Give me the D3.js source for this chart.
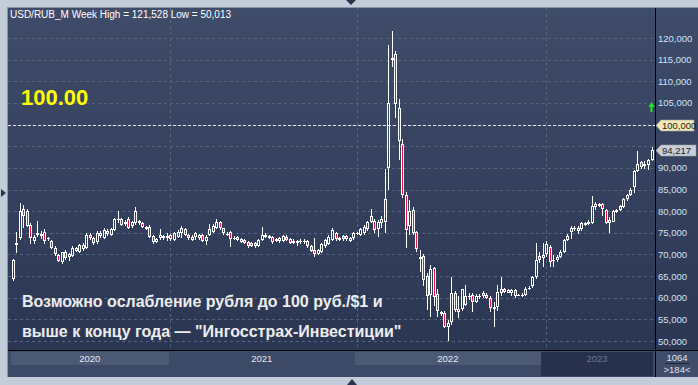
<!DOCTYPE html>
<html>
<head>
<meta charset="utf-8">
<script src="https://cdn.jsdelivr.net/npm/d3@7"></script>
<style>
  body { margin: 0; background: #c3ccd9; }
  svg { display: block; }
  text { font-family: "Liberation Sans", Arial, sans-serif; }
</style>
</head>
<body>
<svg id="chart" width="698" height="385"></svg>
<script>
// weekly candles [open, high, low, close]
const ohlc2020 = [
  [64.3, 69.0, 63.8, 68.6], [72.1, 75.2, 70.3, 72.7], [73.7, 81.9, 73.3, 80.1], [80.6, 81.4, 76.0, 78.9],
  [80.0, 80.4, 76.3, 76.6], [76.8, 77.3, 72.5, 73.7], [73.2, 74.4, 72.5, 73.95], [74.5, 77.7, 74.0, 75.0],
  [74.2, 75.3, 73.6, 74.8], [75.2, 75.8, 72.5, 73.2], [73.6, 74.1, 73.0, 73.9], [73.1, 73.3, 71.3, 71.6],
  [71.6, 72.0, 69.6, 70.1], [69.9, 70.1, 68.3, 68.5], [68.2, 70.6, 67.9, 70.5], [70.6, 71.0, 68.8, 69.2],
  [69.5, 70.4, 68.5, 70.0], [69.7, 71.9, 69.4, 71.5], [70.9, 71.8, 70.6, 71.4], [70.6, 72.4, 70.3, 72.1],
  [71.2, 72.6, 70.9, 72.2], [71.4, 74.9, 71.2, 74.5], [74.5, 75.0, 73.3, 73.7], [73.7, 74.0, 72.2, 72.6],
  [72.8, 75.3, 72.5, 74.9], [74.2, 75.4, 73.8, 74.9], [73.9, 76.0, 73.5, 75.6], [75.5, 75.9, 74.3, 74.7],
  [74.5, 76.2, 74.2, 75.8], [75.6, 78.5, 75.3, 78.3], [77.9, 80.1, 77.2, 78.3], [78.1, 78.5, 76.5, 76.8],
  [77.0, 78.0, 76.5, 77.6], [78.3, 78.6, 75.8, 76.0], [76.6, 77.8, 76.2, 77.4], [77.2, 81.0, 76.8, 80.0],
  [77.7, 78.0, 76.9, 77.2], [77.2, 77.5, 76.0, 76.3], [76.3, 76.6, 75.6, 75.9], [76.4, 76.7, 73.8, 74.1],
  [74.2, 74.5, 72.4, 72.8], [72.9, 73.8, 72.6, 73.5], [73.7, 75.8, 73.4, 74.5], [73.7, 74.6, 73.3, 74.2],
  [73.7, 75.0, 73.2, 74.2]
];
const ohlc2021 = [
  [74.5, 74.8, 73.2, 73.5], [73.3, 75.2, 73.0, 74.9], [74.1, 75.6, 73.8, 75.2], [74.9, 76.6, 73.7, 76.0],
  [75.8, 76.1, 74.2, 74.5], [74.5, 74.8, 73.4, 73.7], [73.3, 74.4, 73.0, 74.1], [74.0, 75.2, 73.3, 75.0],
  [73.7, 74.8, 73.4, 74.5], [74.5, 74.8, 72.8, 73.1], [73.0, 74.4, 72.1, 74.1], [74.5, 77.0, 74.2, 75.8],
  [75.2, 77.0, 74.9, 76.6], [76.2, 78.2, 75.9, 77.6], [77.6, 77.8, 75.7, 76.0], [76.0, 76.2, 74.6, 74.9],
  [74.7, 75.1, 74.2, 74.8], [75.2, 75.4, 71.8, 73.6], [73.6, 74.2, 73.3, 73.9], [74.0, 74.3, 73.0, 73.3],
  [73.6, 73.9, 72.6, 72.9], [73.3, 73.6, 72.4, 72.7], [72.9, 73.1, 71.4, 72.0], [72.0, 72.9, 71.7, 72.6],
  [72.6, 72.9, 71.6, 72.0], [72.0, 73.6, 71.7, 73.3], [73.3, 76.3, 73.0, 74.6], [74.0, 74.9, 73.7, 74.6],
  [73.9, 74.5, 73.6, 74.2], [74.0, 74.3, 72.5, 72.8], [73.1, 73.9, 72.8, 73.6], [73.0, 74.0, 72.6, 73.7],
  [73.2, 74.5, 72.9, 74.2], [74.1, 74.4, 73.0, 73.3], [73.6, 73.9, 72.3, 72.6], [72.7, 73.5, 72.5, 73.2],
  [72.7, 73.4, 71.9, 73.2], [73.2, 73.5, 72.5, 72.8], [72.8, 73.5, 72.5, 73.2], [73.1, 73.4, 71.6, 71.9],
  [71.9, 72.2, 70.6, 70.9], [71.0, 73.8, 69.3, 70.2], [70.2, 71.3, 69.9, 71.0], [70.6, 72.7, 70.3, 72.4],
  [71.9, 73.6, 71.6, 73.3], [72.4, 74.4, 72.1, 74.1], [73.3, 76.0, 73.0, 75.6], [74.9, 75.2, 73.2, 73.5],
  [73.3, 74.0, 73.0, 73.7], [74.2, 74.5, 73.2, 73.5], [74.2, 74.4, 73.2, 73.5], [73.1, 74.0, 72.9, 73.7],
  [73.7, 75.2, 73.4, 74.9]
];
const ohlc2022 = [
  [74.9, 75.2, 74.6, 75.0], [74.5, 76.2, 74.2, 75.8], [74.9, 76.8, 74.6, 76.4], [75.8, 77.8, 75.5, 77.4],
  [78.9, 80.4, 77.3, 77.6], [77.8, 78.2, 75.0, 75.6], [75.8, 78.0, 74.1, 77.4], [77.2, 78.8, 76.0, 78.3],
  [77.5, 89.7, 75.0, 82.9], [89.9, 118.3, 85.0, 104.9], [115.0, 121.528, 113.2, 115.4], [116.3, 117.1, 101.5, 104.7],
  [103.9, 105.8, 91.9, 96.1], [95.5, 96.6, 83.0, 83.7], [83.7, 84.5, 71.4, 75.6], [76.5, 82.5, 74.5, 80.0],
  [80.2, 81.0, 74.5, 74.9], [75.2, 75.5, 70.6, 71.2], [69.3, 71.0, 66.0, 69.0], [69.6, 70.2, 62.6, 64.1],
  [65.0, 65.6, 57.2, 60.4], [60.6, 67.5, 55.6, 66.6], [66.8, 67.0, 58.0, 60.1], [60.9, 62.1, 55.6, 57.0],
  [56.2, 57.0, 55.8, 56.8], [56.4, 57.0, 53.0, 53.3], [53.3, 54.8, 50.013, 54.1], [54.5, 64.8, 53.8, 61.2],
  [61.0, 61.5, 56.8, 57.2], [57.3, 60.5, 55.3, 56.8], [57.3, 62.0, 57.0, 61.9], [58.3, 62.9, 58.0, 60.4],
  [60.3, 61.0, 59.4, 60.5], [60.6, 61.0, 56.8, 59.1], [59.1, 60.8, 58.8, 60.4], [60.2, 60.8, 59.8, 60.5],
  [60.5, 61.6, 59.9, 61.2], [60.6, 61.0, 59.6, 59.9], [59.9, 60.5, 56.8, 57.6], [57.8, 59.1, 53.2, 57.4],
  [57.9, 62.9, 57.0, 61.4], [61.0, 64.8, 60.5, 62.1], [62.0, 62.3, 61.0, 61.4], [61.2, 62.0, 61.0, 61.8],
  [61.2, 61.9, 60.5, 61.7], [61.7, 62.0, 60.0, 60.3], [60.5, 60.9, 60.3, 60.7], [60.6, 61.0, 60.2, 60.7],
  [60.6, 62.4, 60.3, 62.1], [62.1, 62.7, 61.8, 62.2], [62.6, 65.0, 62.3, 64.7], [64.7, 72.7, 64.4, 68.8],
  [69.7, 70.6, 68.0, 68.7]
];
const ohlc2023 = [
  [69.1, 72.7, 67.1, 69.9], [70.1, 73.0, 69.5, 72.4], [71.8, 72.2, 67.1, 68.3], [68.5, 69.8, 67.1, 68.8],
  [68.6, 69.9, 68.3, 69.5], [69.5, 71.0, 69.2, 70.6], [70.6, 73.6, 70.3, 73.3], [73.3, 74.7, 73.0, 74.2],
  [75.2, 76.5, 73.5, 76.2], [76.2, 76.5, 75.5, 75.8], [75.5, 76.6, 74.8, 76.2], [75.8, 77.5, 75.5, 77.2],
  [76.8, 77.6, 76.5, 77.3], [77.0, 77.9, 76.7, 77.6], [77.3, 83.5, 77.0, 81.2], [81.0, 82.2, 80.2, 81.6],
  [81.3, 81.9, 81.0, 81.7], [81.6, 81.9, 78.9, 80.6], [80.2, 80.5, 77.0, 77.3], [77.2, 78.6, 75.0, 77.9],
  [77.6, 80.3, 77.5, 80.1], [79.8, 80.5, 79.6, 80.2], [80.2, 81.5, 80.0, 81.2], [81.0, 83.0, 80.8, 82.7],
  [82.7, 84.0, 82.4, 83.7], [83.7, 85.3, 83.4, 85.0], [85.6, 89.5, 84.1, 89.3], [89.3, 93.9, 89.0, 91.0],
  [91.4, 91.6, 89.8, 90.2], [90.4, 91.6, 89.8, 91.0], [90.6, 92.0, 89.6, 91.8], [91.8, 94.8, 91.5, 94.217]
];
const years = ['2020', '2021', '2022', '2023'];
const yTicks = [50, 55, 60, 65, 70, 75, 80, 85, 90, 95, 100, 105, 110, 115, 120];
const gridWeeks = [45, 98, 152];
const levelValue = 100;
const lastValue = 94.217;
const titleText = 'USD/RUB_M Week High = 121,528 Low = 50,013';
const captionLines = ['Возможно ослабление рубля до 100 руб./$1 и',
  'выше к концу года — "Ингосстрах-Инвестиции"'];
const barCount = '1064';
const visibleCount = '>184<';

const candles = [ohlc2020, ohlc2021, ohlc2022, ohlc2023].flatMap((arr, yi) =>
  arr.map(d => ({ o: d[0], h: d[1], l: d[2], c: d[3], year: yi })));

const svg = d3.select('#chart');
const padL = 8, padT = 8, plotRight = 655, plotBottom = 350, axisBottom = 377;

const x = d3.scaleLinear().domain([0, candles.length - 1]).range([12.5, 651.5]);
const y = d3.scaleLinear().domain([50, 120]).range([341, 38]);
const fmt = v => v.toFixed(3).replace('.', ',');

// background
const grad = svg.append('defs').append('linearGradient')
  .attr('id', 'bg').attr('x1', 0).attr('y1', 0).attr('x2', 0).attr('y2', 1);
grad.append('stop').attr('offset', '0%').attr('stop-color', '#3f4c69');
grad.append('stop').attr('offset', '100%').attr('stop-color', '#2b3653');

svg.append('rect').attr('width', 698).attr('height', 385).attr('fill', '#c3ccd9');
svg.append('rect').attr('x', padL - 1).attr('y', padT - 1)
  .attr('width', 698 - padL + 1).attr('height', axisBottom - padT + 1)
  .attr('fill', '#8a95a6');
svg.append('rect').attr('x', padL).attr('y', padT)
  .attr('width', 698 - padL).attr('height', plotBottom - padT)
  .attr('fill', 'url(#bg)');

// grid
const grid = svg.append('g')
  .attr('stroke', '#56637f').attr('stroke-dasharray', '3,3').attr('stroke-width', 1);
grid.selectAll('.hg').data(yTicks).enter().append('line')
  .attr('x1', padL).attr('x2', plotRight)
  .attr('y1', d => Math.round(y(d)) + 0.5).attr('y2', d => Math.round(y(d)) + 0.5);
grid.selectAll('.vg').data(gridWeeks).enter().append('line')
  .attr('x1', d => Math.round(x(d)) + 0.5).attr('x2', d => Math.round(x(d)) + 0.5)
  .attr('y1', padT).attr('y2', plotBottom);

// level line at 100
svg.append('line')
  .attr('x1', padL).attr('x2', plotRight)
  .attr('y1', Math.round(y(levelValue)) + 0.5).attr('y2', Math.round(y(levelValue)) + 0.5)
  .attr('stroke', '#e6e6e6').attr('stroke-dasharray', '3,2');

// candles
const cg = svg.append('g');
candles.forEach((d, i) => {
  const cx = Math.round(x(i));
  const yTop = Math.round(y(Math.max(d.o, d.c)));
  const yBot = Math.round(y(Math.min(d.o, d.c)));
  const yH = Math.round(y(d.h)), yL = Math.round(y(d.l));
  const down = d.c < d.o;
  cg.append('line').attr('x1', cx + 0.5).attr('x2', cx + 0.5)
    .attr('y1', yH).attr('y2', yTop).attr('stroke', '#fff');
  cg.append('line').attr('x1', cx + 0.5).attr('x2', cx + 0.5)
    .attr('y1', yBot).attr('y2', yL).attr('stroke', '#fff');
  if (yBot - yTop < 2) {
    cg.append('line').attr('x1', cx - 1).attr('x2', cx + 2)
      .attr('y1', yTop + 0.5).attr('y2', yTop + 0.5).attr('stroke', '#fff');
  } else {
    cg.append('rect').attr('x', cx - 0.5).attr('y', yTop + 0.5)
      .attr('width', 2).attr('height', yBot - yTop - 1)
      .attr('fill', down ? '#e5173f' : 'none').attr('stroke', '#fff');
  }
});

// header and texts
svg.append('text').attr('x', 10).attr('y', 17.5)
  .attr('fill', '#ffffff').attr('font-size', '10px').text(titleText);
svg.append('text').attr('x', 21).attr('y', 105)
  .attr('fill', '#ffff00').attr('font-size', '22px').attr('font-weight', 'bold')
  .text(levelValue.toFixed(2));
svg.selectAll('.cap').data(captionLines).enter().append('text')
  .attr('x', 22).attr('y', (d, i) => 306.5 + i * 30)
  .attr('fill', '#ececec').attr('font-size', '16px').attr('font-weight', 'bold')
  .text(d => d);

// right axis; labels under the price tags are hidden by the tags
const tagValues = [levelValue, lastValue];
const labelTicks = yTicks.filter(t => tagValues.every(v => Math.abs(y(t) - y(v)) > 8));
svg.append('g').attr('transform', `translate(${plotRight},0)`)
  .call(d3.axisRight(y).tickValues(labelTicks).tickFormat(fmt).tickSize(0).tickPadding(3))
  .call(g => g.select('.domain').remove())
  .call(g => g.selectAll('text').attr('fill', '#d3e1f5')
    .attr('font-size', '9.5px').attr('font-family', '"Liberation Sans", Arial, sans-serif'));

// price tags
function tag(v, fill, label, w) {
  const cy = Math.round(y(v)) + 0.5;
  svg.append('path')
    .attr('d', `M${plotRight + 1},${cy} L${plotRight + 6},${cy - 5.5} L${plotRight + w},${cy - 5.5} L${plotRight + w},${cy + 5.5} L${plotRight + 6},${cy + 5.5} Z`)
    .attr('fill', fill).attr('stroke', '#9aa0a8').attr('stroke-width', 0.6);
  svg.append('text').attr('x', plotRight + 7).attr('y', cy).attr('dy', '0.35em')
    .attr('fill', '#1c1c1c').attr('font-size', '9.5px').text(label);
}
tag(levelValue, '#f1e8b6', fmt(levelValue), 39);
tag(lastValue, '#c9ced6', lastValue.toFixed(3).replace('.', ','), 41);

// green signal arrow over last candle
const ax = Math.round(x(candles.length - 1)) - 0.5;
svg.append('path')
  .attr('d', `M${ax - 3},${107} L${ax},${102} L${ax + 3},${107} Z`)
  .attr('fill', '#1fe61f');
svg.append('line').attr('x1', ax).attr('x2', ax).attr('y1', 105).attr('y2', 112)
  .attr('stroke', '#1fe61f').attr('stroke-width', 2);

// bottom time axis
svg.append('rect').attr('x', padL).attr('y', plotBottom)
  .attr('width', 698 - padL).attr('height', axisBottom - plotBottom).attr('fill', '#3c4967');
let start = 0;
const bands = years.map((yr, i) => {
  const n = candles.filter(c => c.year === i).length;
  const b = { yr, i, x0: Math.max(padL + 2, x(start - 0.5)), x1: Math.min(plotRight, x(start + n - 0.5)) };
  start += n;
  return b;
});
const last = years.length - 1;
svg.selectAll('.yb').data(bands).enter().append('rect')
  .attr('x', d => Math.round(d.x0)).attr('y', 352)
  .attr('width', d => Math.round(d.x1) - Math.round(d.x0))
  .attr('height', d => d.i === last ? 24 : 13)
  .attr('fill', d => d.i === last ? '#27314d' : (d.i % 2 === 0 ? '#4b5975' : 'none'));
svg.selectAll('.yt').data(bands).enter().append('text')
  .attr('x', d => (d.x0 + d.x1) / 2).attr('y', 358.5).attr('dy', '0.35em')
  .attr('text-anchor', 'middle').attr('font-size', '9.5px')
  .attr('fill', d => d.i === last ? '#6b7590' : '#e3e8f2')
  .text(d => d.yr);

// counter box
svg.append('rect').attr('x', plotRight).attr('y', plotBottom)
  .attr('width', 698 - plotRight).attr('height', axisBottom - plotBottom).attr('fill', '#3f4c6a');
svg.append('line').attr('x1', 665).attr('x2', 689).attr('y1', 363.5).attr('y2', 363.5)
  .attr('stroke', '#1f2636');
svg.append('text').attr('x', 677).attr('y', 357.5).attr('dy', '0.35em').attr('text-anchor', 'middle')
  .attr('font-size', '9.5px').attr('fill', '#dfe5ef').text(barCount);
svg.append('text').attr('x', 677).attr('y', 370).attr('dy', '0.35em').attr('text-anchor', 'middle')
  .attr('font-size', '9.5px').attr('fill', '#dfe5ef').text(visibleCount);

// separators
svg.append('line').attr('x1', plotRight + 0.5).attr('x2', plotRight + 0.5)
  .attr('y1', padT).attr('y2', axisBottom).attr('stroke', '#000');
svg.append('line').attr('x1', padL).attr('x2', 698)
  .attr('y1', plotBottom + 0.5).attr('y2', plotBottom + 0.5).attr('stroke', '#000');

// scroll markers on the frame
svg.append('path').attr('d', 'M346,0 L356,0 L351,5 Z').attr('fill', '#2a3450');
svg.append('path').attr('d', 'M347,385 L357,385 L352,379 Z').attr('fill', '#2a3450');
svg.append('path').attr('d', 'M1,189 L1,197 L6,193 Z').attr('fill', '#2a3450');
</script>
</body>
</html>
